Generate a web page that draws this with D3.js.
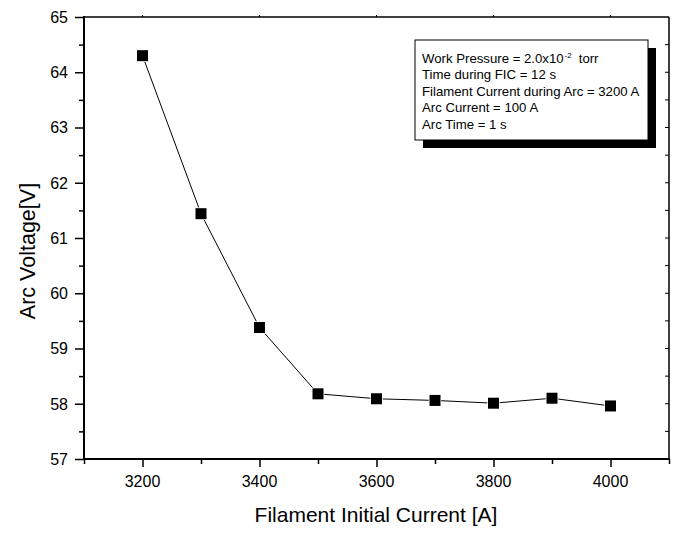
<!DOCTYPE html>
<html>
<head>
<meta charset="utf-8">
<script src="https://cdn.jsdelivr.net/npm/d3@7"></script>
<style>
  body { margin: 0; background: #fff; }
  text { font-family: Arial, "Liberation Sans", sans-serif; fill: #000; }
</style>
</head>
<body>
<script>
let width = 676;
let height = 540;

// data
let currents = [3200, 3300, 3400, 3500, 3600, 3700, 3800, 3900, 4000];
let voltages = [64.3, 61.44, 59.38, 58.18, 58.09, 58.06, 58.01, 58.1, 57.96];
let xTicks = [3200, 3400, 3600, 3800, 4000];
let yTicks = [57, 58, 59, 60, 61, 62, 63, 64, 65];
let noteLines = ["Time during FIC = 12 s", "Filament Current during Arc = 3200 A",
                 "Arc Current = 100 A", "Arc Time = 1 s"];

let margin = { left: 84, right: 7, top: 17, bottom: 81 };

let svg = d3.select("body").append("svg")
            .attr("width", width)
            .attr("height", height);

let x = d3.scaleLinear().domain([3100, 4100]).range([margin.left, width - margin.right]);
let y = d3.scaleLinear().domain([57, 65]).range([height - margin.bottom, margin.top]);

let x0 = x.range()[0], x1 = x.range()[1];
let y0 = y.range()[0], y1 = y.range()[1];

// bottom axis
let bottom = svg.append("g").attr("transform", `translate(0,${y0})`);
bottom.call(d3.axisBottom(x).tickValues(d3.range(3100, 4101, 100)).tickSize(5).tickFormat(""));
bottom.selectAll(".tick line")
      .attr("y2", d => (d % 200 === 0) ? 8 : 5)
      .attr("stroke-width", 1.5);
bottom.select(".domain").remove();
bottom.selectAll(".label").data(xTicks).enter().append("text")
      .attr("x", d => x(d))
      .attr("y", 28)
      .attr("text-anchor", "middle")
      .attr("font-size", 16)
      .text(d => d);

// left axis
let left = svg.append("g").attr("transform", `translate(${x0},0)`);
left.call(d3.axisLeft(y).tickValues(d3.range(57, 65.01, 0.5)).tickFormat(""));
left.selectAll(".tick line")
    .attr("x2", d => (d % 1 === 0) ? -9 : -5)
    .attr("stroke-width", 1.5);
left.select(".domain").remove();
left.selectAll(".label").data(yTicks).enter().append("text")
    .attr("x", -16)
    .attr("y", d => y(d))
    .attr("dy", "0.36em")
    .attr("text-anchor", "end")
    .attr("font-size", 16)
    .text(d => d);

// top and right minor ticks
svg.append("g").selectAll("line").data(xTicks).enter().append("line")
   .attr("x1", d => x(d)).attr("x2", d => x(d))
   .attr("y1", y1).attr("y2", y1 - 2)
   .attr("stroke", "#000");
svg.append("g").selectAll("line").data(d3.range(57.5, 65, 0.5)).enter().append("line")
   .attr("x1", x1).attr("x2", x1 - 4)
   .attr("y1", d => y(d)).attr("y2", d => y(d))
   .attr("stroke", "#000");

// frame
svg.append("line").attr("x1", x0).attr("x2", x1).attr("y1", y1).attr("y2", y1)
   .attr("stroke", "#000").attr("stroke-width", 1.5);
svg.append("line").attr("x1", x1).attr("x2", x1).attr("y1", y1).attr("y2", y0)
   .attr("stroke", "#000").attr("stroke-width", 1.5);
svg.append("line").attr("x1", x0).attr("x2", x1 + 1).attr("y1", y0).attr("y2", y0)
   .attr("stroke", "#000").attr("stroke-width", 2);
svg.append("line").attr("x1", x0).attr("x2", x0).attr("y1", y1 - 1).attr("y2", y0 + 1)
   .attr("stroke", "#000").attr("stroke-width", 2);

// axis titles
svg.append("text")
   .attr("x", 376)
   .attr("y", 522)
   .attr("text-anchor", "middle")
   .attr("font-size", 21)
   .text("Filament Initial Current [A]");
svg.append("text")
   .attr("transform", `translate(35,${251}) rotate(-90)`)
   .attr("text-anchor", "middle")
   .attr("font-size", 21.5)
   .text("Arc Voltage[V]");

// series
let data = currents.map((c, i) => ({ c: c, v: voltages[i] }));
svg.append("path").datum(data)
   .attr("d", d3.line().x(d => x(d.c)).y(d => y(d.v)))
   .attr("fill", "none")
   .attr("stroke", "#000")
   .attr("stroke-width", 1);
let ms = 11;
svg.append("g").selectAll("rect").data(data).enter().append("rect")
   .attr("x", d => x(d.c) - ms / 2)
   .attr("y", d => y(d.v) - ms / 2)
   .attr("width", ms)
   .attr("height", ms)
   .attr("fill", "#000")
   .attr("stroke", "#fff")
   .attr("stroke-width", 1.5)
   .attr("paint-order", "stroke");

// note box
let bx = 415, by = 40, bw = 233, bh = 100;
svg.append("rect").attr("x", bx + 8).attr("y", by + 8).attr("width", bw).attr("height", bh)
   .attr("fill", "#000");
svg.append("rect").attr("x", bx).attr("y", by).attr("width", bw).attr("height", bh)
   .attr("fill", "#fff").attr("stroke", "#000").attr("stroke-width", 1);

let first = svg.append("text").attr("x", bx + 7).attr("y", by + 23).attr("font-size", 13.2);
first.append("tspan").text("Work Pressure = 2.0x10");
first.append("tspan").attr("dx", 1).attr("dy", -5).attr("font-size", 8).text("-2");
first.append("tspan").attr("dx", 7).attr("dy", 5).text("torr");
svg.append("g").selectAll("text").data(noteLines).enter().append("text")
   .attr("x", bx + 7)
   .attr("y", (d, i) => by + 23 + (i + 1) * 16.4)
   .attr("font-size", 13.2)
   .text(d => d);
</script>
</body>
</html>
